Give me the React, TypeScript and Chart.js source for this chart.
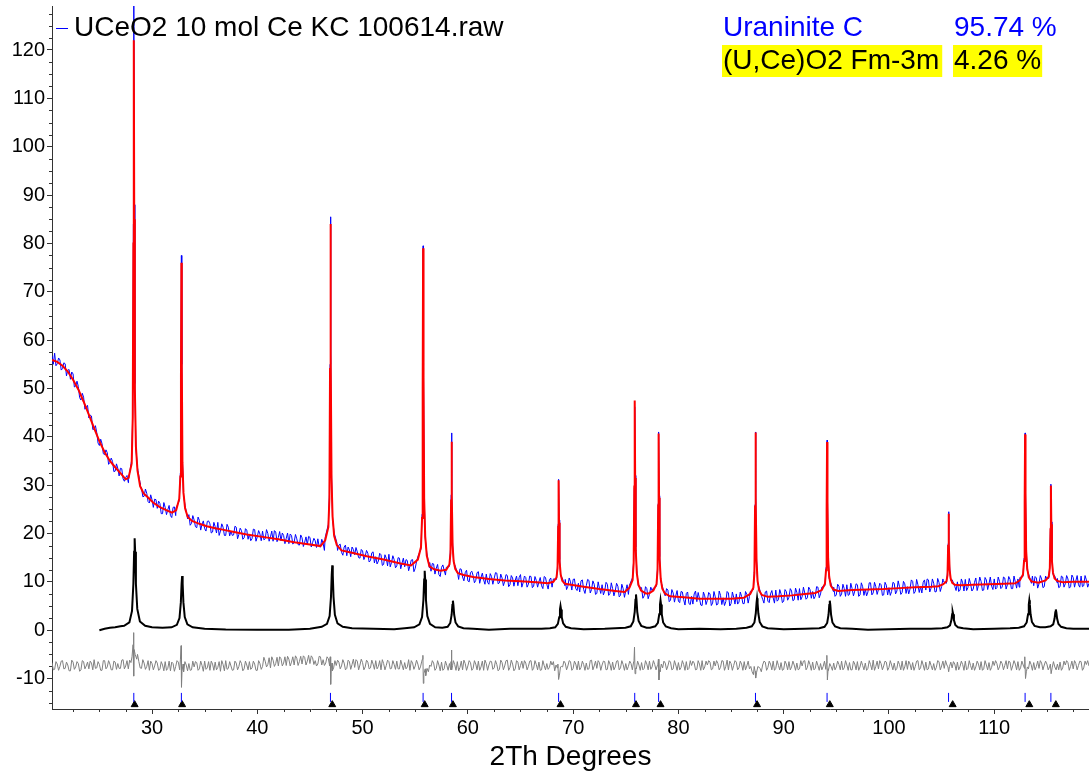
import React, { useEffect, useRef } from 'react';
import { Chart, registerables } from 'chart.js';

Chart.register(...registerables);

// ---------------- data ----------------
const scanStart = 20.5;
const scanStep = 0.125;

// observed counts on the scan grid (20.5 .. 119.0, step 0.125)
const observedCounts = [
  56.8, 55.0, 57.3, 54.7, 55.1, 56.3, 55.9, 53.8, 54.1, 55.3, 55.1, 52.6, 53.8, 53.9, 51.9, 53.4, 53.0, 50.3, 50.5, 51.5, 50.4, 48.1, 47.6, 49.0, 48.2, 45.7, 46.1, 46.5, 43.9, 44.5, 44.3, 41.5, 41.6, 42.3, 40.9, 38.7, 38.2, 39.5, 38.6, 36.5,
  36.3, 37.3, 36.7, 34.3, 34.7, 35.6, 34.9, 32.8, 32.9, 34.4, 33.5, 31.9, 33.5, 33.4, 31.3, 30.8, 31.6, 32.0, 30.5, 31, 33.0, 40, 100, 50, 31.0, 33, 29.0, 29.8, 29.5, 27.6, 27.7, 29.2, 28.3, 26.6, 26.3, 28.0, 27.0, 25.4, 27.1, 27.0,
  25.2, 26.7, 26.2, 24.1, 24.1, 26.4, 25.4, 23.9, 24.9, 25.8, 23.7, 23.3, 25.4, 25.5, 23.7, 25, 25.5, 27, 60, 40, 30, 26, 23.8, 23.5, 23.9, 21.7, 22.1, 23.7, 22.8, 21.4, 21.2, 23.4, 22.7, 20.7, 21.9, 22.6, 21.0, 20.5, 22.5, 22.6,
  22.0, 20.1, 20.3, 22.3, 21.4, 20.1, 22.3, 19.6, 20.5, 22.0, 21.3, 19.6, 19.6, 21.9, 21.3, 19.5, 20.5, 19.6, 19.7, 21.5, 21.3, 18.9, 19.8, 21.1, 20.6, 18.8, 19.1, 21.0, 20.7, 18.8, 19.9, 18.5, 18.9, 20.9, 20.8, 18.4, 19.3, 20.6, 19.9, 18.5,
  20.5, 18.7, 18.9, 20.8, 20.0, 18.4, 19.3, 20.5, 18.4, 20.6, 20.3, 18.3, 19.2, 20.4, 18.5, 20.1, 19.6, 17.9, 19.0, 20.1, 17.9, 19.9, 19.6, 17.8, 18.2, 19.8, 18.9, 17.7, 17.6, 19.7, 19.1, 17.3, 18.2, 19.3, 17.7, 19.4, 19.2, 17.2, 18.1, 19.0,
  18.5, 17.1, 18.9, 17.3, 17.2, 18.8, 18.0, 16.5, 18, 19, 20, 30, 80, 40, 22, 19, 18, 16.5, 17.6, 17.8, 16.1, 15.5, 17.2, 17.6, 15.4, 17.2, 16.6, 15.2, 17.2, 16.7, 15.6, 17.1, 16.2, 15.0, 14.9, 16.7, 16.4, 14.6, 15.3, 16.5,
  15.9, 14.1, 14.4, 16.0, 16.2, 13.9, 15.2, 13.7, 14.3, 15.9, 15.6, 13.4, 13.6, 15.6, 14.9, 13.3, 15.7, 13.1, 14.0, 15.4, 14.6, 12.9, 13.3, 15.0, 14.9, 12.7, 13.9, 14.9, 13.1, 14.6, 14.4, 12.3, 13.3, 14.5, 14.6, 12.1, 12.8, 14.2, 14.6, 15,
  16, 20, 60, 30, 18, 15, 14, 14.0, 12.2, 13.8, 13.7, 11.6, 12.8, 13.6, 11.5, 11.1, 13.0, 13.5, 12.4, 11.4, 12.5, 13, 14, 20, 30, 20, 13, 12, 12, 10.5, 12.7, 12.6, 11.0, 10.2, 11.9, 12.4, 10.2, 10.0, 11.9, 12.2,
  11.3, 9.8, 10.3, 11.9, 12.1, 9.7, 10.9, 11.8, 10.4, 9.5, 11.6, 9.9, 9.5, 11.7, 11.1, 9.5, 10.7, 11.9, 11.8, 9.6, 9.8, 11.6, 10.8, 9.2, 10.1, 11.5, 11.3, 9.0, 9.4, 11.3, 10.8, 9.1, 10.3, 11.2, 9.2, 10.9, 11.5, 8.9, 9.8, 11.2,
  10.9, 8.9, 9.5, 11.2, 11.1, 8.8, 9.1, 11.1, 10.3, 8.9, 10.0, 10.9, 9.2, 8.6, 11.1, 10.9, 9.5, 8.5, 10.4, 10.8, 8.9, 10, 11, 15, 25, 15, 12, 10, 10, 10, 10.5, 8.4, 9.1, 10.8, 10.0, 8.3, 10.5, 10.6, 8.6, 8.2,
  9.7, 7.9, 10.2, 10.4, 8.4, 7.6, 9.2, 10.5, 10.3, 7.7, 8.4, 10.2, 9.5, 7.4, 7.6, 10.0, 8.7, 7.6, 9.4, 7.3, 8.1, 9.9, 9.5, 7.2, 7.6, 9.8, 8.6, 7.1, 8.1, 9.7, 9.1, 6.9, 7.2, 9.5, 8.6, 6.8, 8.2, 9.4, 7.4, 9,
  9, 12, 14, 20, 16, 12, 9, 9, 8.7, 6.6, 7.1, 9.0, 8.6, 6.5, 7.4, 8.9, 8.2, 9, 10, 20, 15, 14, 12, 10, 9, 8, 7.1, 8.6, 8.3, 5.9, 6.2, 8.4, 7.7, 5.8, 7.1, 8.2, 6.0, 5.7, 8.0, 7.9,
  6.3, 5.2, 7.6, 7.9, 5.5, 5.3, 7.0, 5.4, 7.5, 8.1, 5.9, 7.8, 6.6, 5.2, 5.1, 7.9, 7.1, 5.3, 6.2, 7.8, 7.5, 5.1, 5.6, 8.0, 6.9, 5.2, 5.4, 8.1, 7.2, 5.3, 6.7, 5.1, 5.9, 8.0, 7.7, 5.0, 5.5, 7.9, 6.8, 5.4,
  7.5, 5.4, 5.8, 7.9, 7.0, 5.5, 5.5, 8.0, 7.4, 5.6, 7.0, 8, 8, 12, 20, 15, 12, 10, 8, 8, 6.4, 5.6, 7.9, 8.1, 6.0, 5.7, 7.5, 8.2, 6.7, 5.6, 8.3, 6.0, 6.3, 8.4, 7.5, 5.7, 6.0, 8.4, 8.0, 6.2,
  6.8, 8.6, 8.1, 6.1, 6.3, 8.7, 7.8, 6.2, 8.6, 6.3, 6.9, 8.9, 7.7, 6.4, 6.7, 8.9, 8.4, 6.6, 8.0, 6.5, 7.0, 9.0, 8.9, 6.7, 7.5, 9, 10, 15, 20, 18, 14, 11, 9, 9, 8.9, 7.0, 7.3, 9.5, 9.1, 7.0,
  7.5, 9.5, 8.6, 7.0, 9.4, 7.2, 7.4, 9.7, 8.6, 7.1, 8.1, 9.6, 9.4, 7.0, 7.3, 9.8, 9.0, 7.2, 8.5, 7.1, 7.9, 9.8, 9.8, 7.3, 7.7, 9.9, 9.0, 7.4, 8.4, 9.7, 9.4, 7.2, 7.3, 9.9, 9.3, 7.3, 8.8, 7.2, 8.0, 9.9,
  9.7, 7.5, 8.1, 10.2, 9.0, 7.4, 7.8, 10.1, 9.6, 7.6, 9.0, 7.5, 8.5, 10.4, 10.1, 7.6, 8.0, 10.5, 9.4, 7.8, 9.0, 7.7, 9.9, 10.4, 8.3, 10.6, 10.4, 7.9, 8.7, 10.6, 9.7, 7.9, 8.0, 10.7, 9.9, 8.0, 9.0, 10.6, 9.6, 10,
  10, 12, 18, 15, 11, 10, 10, 8.2, 10.0, 8.0, 8.3, 10.6, 9.8, 8.1, 10.5, 8.2, 8.8, 10.7, 9.6, 8.1, 8.5, 9.9, 10.8, 8.2, 9.3, 11.0, 10.1, 8.2, 8.3, 10.9, 10.4, 8.4, 9.6, 11.0, 9.1, 8.4, 10.6, 8.5, 8.8, 11.0,
  10.1, 8.6, 8.9, 11.0, 10.8, 8.5, 9.4, 11.1, 10.5, 8.6, 8.6, 11.2, 10.0, 8.7, 10.6, 8.9, 11, 14, 20, 30, 25, 18, 12, 11, 10, 11.2, 9.2, 11.1, 10.8, 8.7, 9.6, 11.3, 10.6, 8.8, 9.0, 11.2, 10, 15, 12, 14,
  13, 12, 11, 10, 10.7, 8.8, 9.0, 11.2, 11.0, 8.9, 9.6, 11.3, 10.6, 8.7, 9.0, 11.4, 10.9, 8.9, 10.2, 11.3, 9.4, 8.9, 11.2, 9.0, 9.2, 11.3, 10.4, 8.9, 9.7,
];

// observed profile points across each reflection [2theta, counts]
const observedPeaks: number[][][] = [
  [[27.77, 31.2], [28.07, 35.2], [28.17, 45], [28.23, 84], [28.27, 133], [28.31, 88], [28.37, 51], [28.47, 37.5], [28.62, 33.6], [28.87, 30.4]],
  [[32.29, 25.3], [32.59, 26.8], [32.69, 32.5], [32.75, 54], [32.79, 77.5], [32.83, 55], [32.89, 35.3], [32.99, 28.0], [33.14, 25.8], [33.39, 23.0]],
  [[46.45, 19.2], [46.75, 21.9], [46.85, 28.0], [46.91, 55], [46.95, 85.5], [46.99, 58], [47.05, 32.2], [47.15, 23.0], [47.3, 20.1], [47.55, 18.2]],
  [[55.25, 15.2], [55.55, 16.8], [55.65, 24.0], [55.71, 50.5], [55.75, 79.5], [55.79, 53], [55.85, 28.1], [55.95, 19.0], [56.1, 16.0], [56.35, 12.9]],
  [[57.95, 13.0], [58.25, 13.2], [58.35, 16.7], [58.41, 28], [58.45, 40.8], [58.49, 29], [58.55, 18.1], [58.65, 14.0], [58.8, 13.3], [59.05, 11.5]],
  [[68.12, 10.6], [68.42, 10.5], [68.52, 13.4], [68.58, 22], [68.62, 31.2], [68.66, 22.8], [68.72, 14.6], [68.82, 11.2], [68.97, 10.8], [69.22, 9.2]],
  [[75.35, 9.3], [75.65, 10.9], [75.75, 14.5], [75.81, 29.5], [75.85, 46.2], [75.89, 32], [75.95, 17.2], [76.05, 12.3], [76.2, 9.1], [76.45, 8.8]],
  [[77.62, 8.7], [77.92, 9.1], [78.02, 13.1], [78.08, 26.2], [78.12, 41], [78.16, 27.8], [78.22, 15.2], [78.32, 10.2], [78.47, 9.1], [78.72, 7.2]],
  [[86.82, 8.0], [87.12, 8.4], [87.22, 12.5], [87.28, 26], [87.32, 41], [87.36, 27.9], [87.42, 14.9], [87.52, 9.8], [87.67, 8.8], [87.92, 6.9]],
  [[93.62, 8.9], [93.92, 9.2], [94.02, 13.0], [94.08, 25.4], [94.12, 39.3], [94.16, 27.2], [94.22, 15.5], [94.32, 10.7], [94.47, 9.8], [94.72, 8.0]],
  [[105.16, 10.1], [105.46, 9.7], [105.56, 12.0], [105.62, 17.9], [105.66, 24.5], [105.7, 18.5], [105.76, 13.1], [105.86, 10.3], [106.01, 10.4], [106.26, 9.0]],
  [[112.43, 10.9], [112.73, 11.1], [112.83, 14.9], [112.89, 27.0], [112.93, 40.8], [112.97, 28.7], [113.03, 17.1], [113.13, 12.4], [113.28, 11.5], [113.53, 9.7]],
  [[114.88, 10.9], [115.18, 10.7], [115.28, 13.5], [115.34, 21.3], [115.38, 30.2], [115.42, 22.4], [115.48, 14.9], [115.58, 11.5], [115.73, 11.3], [115.98, 9.8]],
];

// calculated pattern: background points and reflection profiles
const calculatedBackground: number[][] = [
  [20.5, 55.9], [21.0, 55.5], [21.5, 54.7], [22.0, 53.5], [22.5, 51.8], [23.0, 49.8], [23.5, 47.3], [24.0, 44.6],
  [24.5, 41.8], [25.0, 39.1], [25.5, 36.8], [26.0, 35.0], [26.5, 33.7], [27.0, 32.5], [27.5, 31.2],
  [29.2, 28.3], [29.6, 27.5], [30.1, 26.4], [30.7, 25.5], [31.4, 24.8], [31.9, 24.3],
  [33.8, 22.6], [34.5, 22.0], [35.2, 21.5], [36.0, 21.1], [36.7, 20.8], [37.8, 20.3], [39.0, 19.8], [40.5, 19.3],
  [42.0, 18.8], [43.5, 18.2], [45.0, 17.7], [46.0, 17.4],
  [48.0, 16.5], [49.0, 16.0], [50.4, 15.3], [52.0, 14.6], [53.6, 13.8], [54.6, 13.4],
  [56.8, 12.6], [57.4, 12.3],
  [59.6, 11.4], [60.5, 11.0], [62.0, 10.6], [63.5, 10.3], [65.0, 10.1], [66.5, 9.9], [67.6, 9.7],
  [69.8, 9.4], [71.0, 9.0], [72.5, 8.5], [74.0, 8.1], [74.9, 7.9],
  [76.9, 7.6], [77.2, 7.6],
  [79.2, 7.0], [80.5, 6.8], [82.0, 6.5], [83.5, 6.5], [85.0, 6.5], [86.2, 6.7],
  [88.5, 6.9], [89.5, 7.0], [90.8, 7.2], [92.0, 7.5], [93.0, 7.7],
  [95.2, 8.1], [96.5, 8.3], [98.0, 8.4], [99.5, 8.5], [101.0, 8.7], [102.5, 8.9], [104.0, 9.0], [104.7, 9.1],
  [106.8, 9.3], [108.0, 9.4], [109.5, 9.5], [111.0, 9.6], [112.0, 9.7],
  [114.2, 9.8],
  [116.5, 9.9], [117.5, 10.0], [118.3, 10.0], [119.0, 10.0],
];

const calculatedPeaks: number[][][] = [
  [[27.77, 31.5], [28.07, 34.5], [28.17, 44], [28.23, 80], [28.27, 122], [28.31, 85], [28.37, 50], [28.47, 38], [28.62, 33], [28.87, 29.8]],
  [[32.29, 24.8], [32.59, 27.2], [32.69, 31.8], [32.75, 52.6], [32.79, 76], [32.83, 54.4], [32.89, 34.6], [32.99, 28.4], [33.14, 25.2], [33.39, 23.4]],
  [[46.45, 18.6], [46.75, 21.3], [46.85, 27.3], [46.91, 54], [46.95, 84], [46.99, 57], [47.05, 31.5], [47.15, 23.5], [47.3, 19.5], [47.55, 17.6]],
  [[55.25, 14.6], [55.55, 17.2], [55.65, 23.2], [55.71, 49.4], [55.75, 79], [55.79, 52.2], [55.85, 27.3], [55.95, 19.4], [56.1, 15.4], [56.35, 13.2]],
  [[57.95, 12.5], [58.25, 13.6], [58.35, 16.0], [58.41, 26.8], [58.45, 39], [58.49, 28.2], [58.55, 17.5], [58.65, 14.3], [58.8, 12.7], [59.05, 11.8]],
  [[68.12, 10.0], [68.42, 10.9], [68.52, 12.8], [68.58, 21.4], [68.62, 31], [68.66, 22.2], [68.72, 14.1], [68.82, 11.5], [68.97, 10.2], [69.22, 9.6]],
  [[75.35, 8.8], [75.65, 10.4], [75.75, 13.9], [75.81, 29.7], [75.85, 47.5], [75.89, 31.5], [75.95, 16.5], [76.05, 11.8], [76.2, 9.4], [76.45, 8.2]],
  [[77.62, 8.2], [77.92, 9.5], [78.02, 12.5], [78.08, 25.8], [78.12, 40.7], [78.16, 27.4], [78.22, 14.6], [78.32, 10.6], [78.47, 8.6], [78.72, 7.6]],
  [[86.82, 7.5], [87.12, 8.8], [87.22, 11.9], [87.28, 25.6], [87.32, 40.9], [87.36, 27.3], [87.42, 14.3], [87.52, 10.2], [87.67, 8.2], [87.92, 7.3]],
  [[93.62, 8.3], [93.92, 9.6], [94.02, 12.4], [94.08, 24.9], [94.12, 38.9], [94.16, 26.7], [94.22, 14.9], [94.32, 11.1], [94.47, 9.2], [94.72, 8.4]],
  [[105.16, 9.5], [105.46, 10.1], [105.56, 11.4], [105.62, 17.4], [105.66, 24.1], [105.7, 18.1], [105.76, 12.5], [105.86, 10.7], [106.01, 9.8], [106.26, 9.4]],
  [[112.43, 10.3], [112.73, 11.5], [112.83, 14.3], [112.89, 26.6], [112.93, 40.5], [112.97, 28.2], [113.03, 16.5], [113.13, 12.8], [113.28, 10.9], [113.53, 10.1]],
  [[114.88, 10.3], [115.18, 11.1], [115.28, 12.9], [115.34, 20.9], [115.38, 29.9], [115.42, 21.9], [115.48, 14.3], [115.58, 11.9], [115.73, 10.7], [115.98, 10.2]],
];

// (U,Ce)O2 phase contribution (black)
const phaseBackground: number[][] = [
  [25.0, 0.0], [25.5, 0.3], [26.0, 0.5], [26.5, 0.6], [27.0, 0.8],
  [30.0, 0.6], [31.0, 0.5],
  [35.0, 0.3], [37.0, 0.15], [40.0, 0.1], [43.0, 0.1], [45.0, 0.3],
  [49.0, 0.4], [51.0, 0.3], [53.0, 0.2], [54.0, 0.4],
  [60.5, 0.3], [62.0, 0.1], [64.0, 0.3], [66.0, 0.3], [67.0, 0.3],
  [71.0, 0.2], [73.0, 0.3], [74.0, 0.4],
  [80.0, 0.2], [82.0, 0.3], [84.0, 0.2], [85.5, 0.3],
  [90.0, 0.2], [92.0, 0.3],
  [96.5, 0.3], [98.0, 0.1], [100.0, 0.2], [102.0, 0.3], [104.0, 0.3],
  [108.0, 0.2], [110.0, 0.3], [111.5, 0.4],
  [117.5, 0.3], [119.0, 0.3],
];

const phasePeaks: number[][][] = [
  [[27.35, 0.9], [27.85, 1.6], [28.1, 4.0], [28.23, 9.6], [28.3, 16.2], [28.35, 19.0], [28.4, 16.2], [28.47, 9.6], [28.6, 4.4], [28.85, 1.8], [29.35, 0.9]],
  [[31.86, 0.6], [32.36, 1.1], [32.61, 2.5], [32.74, 5.8], [32.81, 9.6], [32.86, 11.2], [32.91, 9.6], [32.98, 5.8], [33.11, 2.7], [33.36, 1.2], [33.86, 0.6]],
  [[46.12, 0.7], [46.62, 1.3], [46.87, 2.9], [47.0, 6.9], [47.07, 11.4], [47.12, 13.4], [47.17, 11.4], [47.24, 6.9], [47.37, 3.2], [47.62, 1.4], [48.12, 0.7]],
  [[54.9, 0.6], [55.4, 1.2], [55.65, 2.7], [55.78, 6.3], [55.85, 10.5], [55.9, 12.3], [55.95, 10.5], [56.02, 6.3], [56.15, 2.9], [56.4, 1.3], [56.9, 0.6]],
  [[57.58, 0.5], [58.08, 0.7], [58.33, 1.5], [58.46, 3.2], [58.53, 5.2], [58.58, 6.1], [58.63, 5.2], [58.7, 3.2], [58.83, 1.6], [59.08, 0.8], [59.58, 0.4]],
  [[67.8, 0.4], [68.3, 0.6], [68.55, 1.3], [68.68, 2.7], [68.75, 4.3], [68.8, 5.0], [68.85, 4.3], [68.92, 2.7], [69.05, 1.4], [69.3, 0.7], [69.8, 0.4]],
  [[74.97, 0.5], [75.47, 0.8], [75.72, 1.8], [75.85, 3.8], [75.92, 6.3], [75.97, 7.4], [76.02, 6.3], [76.09, 3.8], [76.22, 1.9], [76.47, 0.9], [76.97, 0.5]],
  [[77.3, 0.5], [77.8, 0.8], [78.05, 1.5], [78.18, 3.3], [78.25, 5.3], [78.3, 6.2], [78.35, 5.3], [78.42, 3.3], [78.55, 1.6], [78.8, 0.8], [79.3, 0.4]],
  [[86.47, 0.5], [86.97, 0.8], [87.22, 1.6], [87.35, 3.5], [87.42, 5.6], [87.47, 6.6], [87.52, 5.6], [87.59, 3.5], [87.72, 1.7], [87.97, 0.8], [88.47, 0.4]],
  [[93.38, 0.4], [93.88, 0.7], [94.13, 1.5], [94.26, 3.2], [94.33, 5.2], [94.38, 6.1], [94.43, 5.2], [94.5, 3.2], [94.63, 1.6], [94.88, 0.8], [95.38, 0.4]],
  [[105.05, 0.4], [105.55, 0.6], [105.8, 1.0], [105.93, 2.1], [106.0, 3.3], [106.05, 3.8], [106.1, 3.3], [106.17, 2.1], [106.3, 1.1], [106.55, 0.6], [107.05, 0.4]],
  [[112.33, 0.5], [112.83, 0.8], [113.08, 1.6], [113.21, 3.3], [113.28, 5.3], [113.33, 6.2], [113.38, 5.3], [113.45, 3.3], [113.58, 1.7], [113.83, 0.9], [114.33, 0.6]],
  [[114.85, 0.6], [115.35, 0.8], [115.6, 1.2], [115.73, 2.4], [115.8, 3.7], [115.85, 4.3], [115.9, 3.7], [115.97, 2.4], [116.1, 1.3], [116.35, 0.7], [116.85, 0.4]],
];

// difference curve (offset) on the scan grid
const differenceCounts = [
  -6.7, -8.2, -8.1, -6.5, -7.0, -8.3, -7.5, -6.4, -6.3, -8.0, -7.9, -6.6, -7.2, -8.4, -8.4, -6.2, -6.6, -8.1, -7.6, -6.5, -6.9, -8.5, -8.2, -6.3, -6.5, -8.0, -7.4, -6.6, -8.0, -6.4, -6.8, -8.2, -6.1, -7.9, -7.8, -6.5, -7.1, -8.3, -8.3, -6.3,
  -6.3, -8.0, -7.6, -6.3, -7.0, -8.2, -8.2, -6.4, -6.6, -8.1, -6.9, -7.9, -7.9, -6.2, -6.1, -8.0, -7.4, -6.3, -8.0, -6.2, -6.7, -5.0, -5.2, -5.0, -5.5, -5.0, -6.5, -7.8, -7.9, -6.1, -6.8, -8.1, -7.5, -6.3, -8.3, -6.4, -6.9, -8.2, -7.4, -6.3,
  -6.8, -8.3, -8.1, -6.5, -7.2, -8.4, -6.5, -8.3, -7.9, -6.4, -8.4, -6.6, -6.9, -8.5, -7.5, -6.3, -6.6, -8.2, -7.0, -8, -8.6, -6.5, -7.2, -8.4, -6.9, -8.3, -8.2, -6.4, -7.6, -6.5, -6.7, -8.3, -8.0, -6.4, -7.3, -8.5, -6.4, -8.1, -7.8, -6.5,
  -8.3, -6.4, -7.0, -8.3, -6.6, -8.2, -7.7, -6.5, -8.5, -6.3, -7.1, -8.4, -6.3, -8.1, -7.9, -6.5, -7.4, -8.3, -8.2, -6.4, -6.8, -8.2, -7.5, -6.3, -6.9, -8.4, -8.0, -6.4, -7.2, -8.2, -6.5, -8.1, -7.8, -6.4, -7.0, -8.3, -8.3, -6.3, -6.9, -8.1,
  -7.5, -5.6, -6.4, -7.6, -7.1, -5.7, -7.8, -5.5, -6.2, -7.5, -6.9, -5.6, -7.4, -5.5, -5.9, -7.4, -6.8, -5.5, -7.3, -5.4, -6.0, -7.4, -6.6, -5.5, -7.2, -5.3, -5.8, -7.3, -6.5, -5.4, -7.0, -5.3, -5.6, -7.2, -6.4, -5.2, -6.9, -5.3, -5.7, -7.1,
  -6.3, -7.4, -7.0, -5.4, -5.5, -7.2, -6.1, -7.3, -6.8, -5.5, -5.9, -7.4, -7.5, -8.4, -7.8, -6.3, -7.3, -6.2, -6.6, -8.0, -7.4, -6.1, -6.8, -8.2, -7.9, -6.2, -6.5, -8.1, -7.1, -6.0, -7.7, -6.1, -6.4, -8.2, -7.2, -6.0, -6.7, -8.2, -7.6, -6.2,
  -6.6, -8.0, -7.8, -6.2, -7.0, -8.1, -6.3, -8.0, -7.5, -6.3, -8.2, -6.1, -6.9, -8.2, -7.3, -6.2, -6.5, -8.0, -7.9, -6.3, -7.1, -8.1, -6.4, -8.0, -8.0, -6.2, -7.2, -8.2, -6.7, -8.0, -7.6, -6.1, -8.3, -6.3, -6.8, -8.1, -7.4, -6.2, -7.0, -8.2,
  -7.6, -6.4, -7.0, -8, -9.4, -7.9, -8.6, -7.2, -7.5, -6.3, -6.8, -8.3, -7.9, -6.3, -7.2, -8.4, -6.6, -8.3, -8.0, -6.4, -7.3, -8.3, -6.9, -8.2, -7.8, -6.3, -7.1, -8.3, -6.5, -8.4, -7.7, -6.4, -8.2, -6.2, -6.9, -8.3, -7.4, -6.3, -6.7, -8.3,
  -7.9, -6.3, -7.0, -8.2, -6.4, -8.3, -7.6, -6.4, -8.3, -6.2, -6.9, -8.3, -7.2, -6.4, -6.5, -8.1, -7.8, -6.3, -7.1, -8.4, -8.1, -6.2, -6.7, -8.2, -7.4, -6.3, -6.2, -8.3, -7.7, -6.2, -7.0, -8.4, -8.0, -6.3, -6.6, -8.2, -7.3, -6.4, -7.9, -6.3,
  -6.8, -8.2, -7.5, -6.4, -6.3, -8.3, -7.9, -6.3, -7.1, -8.2, -6.6, -8.3, -8.2, -6.3, -7.3, -8.2, -6.9, -8.1, -7.7, -6.4, -7.2, -6.5, -8.4, -7.2, -7.8, -9, -8.9, -7.5, -7.6, -6.4, -6.8, -8.2, -7.4, -6.3, -6.5, -8.3, -7.9, -6.4, -7.0, -8.2,
  -6.4, -8.2, -7.7, -6.4, -7.1, -8.3, -6.8, -8.1, -8.0, -6.3, -6.2, -8.2, -7.4, -6.4, -7.9, -6.3, -6.7, -8.3, -7.2, -6.4, -6.5, -8.2, -8.1, -6.3, -7.0, -8.3, -6.6, -8.2, -7.6, -6.4, -6.3, -8.2, -7.8, -6.3, -7.1, -8.3, -6.9, -8.2, -7.5, -6.4,
  -6.9, -8.2, -6.5, -7, -8.0, -6.4, -7.2, -8.3, -6.7, -8.2, -7.9, -6.3, -7.0, -8.2, -6.4, -8.1, -7.6, -6.3, -7.1, -8.2, -7.3, -7, -8.6, -7.0, -7.8, -6.4, -6.8, -8.2, -7.4, -6.3, -6.6, -8.2, -8.0, -6.3, -7.2, -8.3, -6.7, -8.2, -7.7, -6.3,
  -7.1, -8.3, -6.5, -8.2, -7.9, -6.3, -7.3, -6.4, -6.8, -8.2, -8.1, -6.3, -7.0, -8.3, -6.3, -8.2, -7.6, -6.4, -7.2, -6.3, -6.6, -8.2, -8.0, -6.4, -7.4, -6.3, -6.9, -8.2, -7.7, -6.3, -6.4, -8.3, -7.5, -6.2, -8.2, -6.4, -6.9, -8.3, -7.3, -6.3,
  -6.6, -8.2, -7.8, -6.4, -7.0, -8.3, -6.5, -8.2, -7.4, -6.4, -8.0, -7.5, -8.6, -9.2, -8.2, -9, -8.8, -7.6, -7.9, -8.6, -7.2, -6.4, -6.6, -8.3, -7.7, -6.4, -7.0, -8.2, -6.4, -8.3, -7.9, -6.3, -7.3, -8.2, -6.7, -8.3, -8.1, -6.4, -7.0, -8.2,
  -6.5, -8.2, -7.6, -6.4, -7.2, -8.3, -6.8, -8.2, -8.0, -6.3, -7.4, -6.4, -6.3, -8.2, -7.7, -6.3, -7.1, -8.3, -6.6, -8.2, -7.9, -6.4, -7.3, -8.3, -6.9, -8.2, -7.5, -6.4, -8.1, -7, -8.3, -6.9, -7.5, -8.3, -6.8, -8.2, -7.6, -6.4, -7.1, -8.2,
  -6.4, -8.2, -7.8, -6.3, -7.2, -8.3, -6.7, -8.2, -8.2, -6.4, -7.0, -8.2, -6.5, -8.3, -7.6, -6.4, -7.3, -8.2, -6.8, -8.3, -7.9, -6.3, -7.1, -8.2, -6.2, -8.3, -7.5, -6.4, -8.0, -6.3, -6.9, -8.2, -7.4, -6.4, -6.6, -8.3, -7.7, -6.3, -7.2, -8.2,
  -6.8, -8.3, -7.9, -6.4, -7.1, -8.2, -6.4, -8.3, -7.6, -6.3, -8.1, -6.4, -7.0, -8.2, -6.7, -8.3, -7.5, -6.4, -6.3, -8.2, -7.8, -6.3, -7.2, -8.3, -6.6, -8.2, -8.0, -6.4, -7.3, -8.2, -6.9, -8.3, -7.7, -6.3, -6.5, -8.2, -7.4, -6.4, -7.9, -6.3,
  -7.2, -8, -8.1, -6.6, -7.8, -6.5, -7.0, -8.3, -6.6, -8.2, -7.5, -6.4, -7.1, -8.3, -6.4, -8.2, -7.9, -6.3, -7.3, -8.2, -6.8, -8.3, -7.6, -6.4, -7.0, -8.2, -6.5, -8.3, -8.0, -6.3, -7.2, -8.2, -6.7, -8.3, -7.7, -6.4, -7.3, -6.3, -6.9, -8.2,
  -7.6, -6.4, -6.9, -8.2, -7.3, -6.3, -8.0, -6.4, -6.6, -8.3, -7.4, -6.3, -7.0, -8.2, -6.5, -8.3, -7.8, -6.4, -7.2, -7.9, -8.3, -8, -8.0, -6.4, -7.1, -8.3, -6.7, -8.2, -7.5, -6.4, -7.9, -6.3, -6.8, -8.2, -7.2, -6.4, -7.0, -8.2, -7.6, -8,
  -8.4, -6.5, -7.6, -8.2, -7.0, -8.2, -6.6, -8.3, -7.8, -6.4, -7.2, -6.3, -6.7, -8.3, -7.5, -6.4, -8.0, -6.3, -6.9, -8.2, -7.3, -6.4, -6.5, -8.3, -7.8, -6.4, -7.1, -6.3, -7.4,
];

const differencePeaks: number[][][] = [
  [[28.1, -5.5], [28.2, -3.0], [28.25, -0.5], [28.27, -9.5], [28.3, -4.0], [28.4, -5.0], [28.55, -6.0]],
  [[32.7, -6.0], [32.76, -3.2], [32.8, -11.8], [32.85, -8.5], [32.95, -7.0]],
  [[46.88, -6.2], [46.93, -5.5], [46.97, -11.2], [47.02, -8.0], [47.1, -6.8]],
  [[55.68, -6.0], [55.73, -5.2], [55.77, -11.0], [55.82, -9.0], [55.95, -8.0]],
  [[58.4, -6.5], [58.44, -4.1], [58.48, -8.2], [58.55, -7.3]],
  [[68.55, -7.0], [68.62, -10.2], [68.7, -9.3], [68.8, -7.6]],
  [[75.78, -6.3], [75.83, -3.5], [75.88, -9.0], [75.95, -7.8]],
  [[78.05, -7.0], [78.1, -6.0], [78.15, -10.3], [78.22, -8.2]],
  [[87.2, -7.5], [87.28, -8.5], [87.34, -9.9], [87.42, -8.8], [87.55, -7.5]],
  [[94.05, -6.8], [94.1, -5.2], [94.15, -10.3], [94.22, -8.0]],
  [[105.6, -7.6], [105.67, -8.6], [105.75, -7.5]],
  [[112.88, -6.0], [112.92, -5.5], [112.97, -10.0], [113.05, -8.6], [113.15, -7.6]],
  [[115.33, -7.0], [115.4, -9.0], [115.5, -7.8]],
];

// reflection positions (tick marks)
const uraniniteReflections = [28.27, 32.79, 46.95, 55.75, 58.45, 68.62, 75.85, 78.12, 87.32, 94.12, 105.66, 112.93, 115.38];
const ucePhaseReflections = [28.35, 32.86, 47.12, 55.9, 58.58, 68.8, 75.97, 78.3, 87.47, 94.38, 106.05, 113.33, 115.85];

// axes
const xMin = 20.5;
const xMax = 119;
const yMin = -16.3;
const yMax = 129.1;
const xMajorTicks = [30, 40, 50, 60, 70, 80, 90, 100, 110];
const yMajorTicks = [-10, 0, 10, 20, 30, 40, 50, 60, 70, 80, 90, 100, 110, 120];
const xMinorStep = 2.5;
const yMinorStep = 2.5;

// labels
const fileTitle = 'UCeO2 10 mol Ce KC 100614.raw';
const phaseNames = ['Uraninite C', '(U,Ce)O2 Fm-3m'];
const phasePercents = ['95.74 %', '4.26 %'];
const xAxisTitle = '2Th Degrees';

// ---------------- helpers ----------------
const FONT = '"Liberation Sans", Arial, Helvetica, sans-serif';
const AXIS_COLOR = '#333333';

function scanPoints(counts: number[]) {
  return counts.map((y, i) => ({ x: Math.round((scanStart + i * scanStep) * 1000) / 1000, y }));
}

function mergeClusters(base: { x: number; y: number }[], clusters: number[][][]) {
  const kept = base.filter(
    (p) => !clusters.some((c) => p.x >= c[0][0] && p.x <= c[c.length - 1][0])
  );
  const extra = clusters.flat().map(([x, y]) => ({ x, y }));
  return [...kept, ...extra].sort((a, b) => a.x - b.x);
}

function pairsToPoints(pairs: number[][]) {
  return pairs.map(([x, y]) => ({ x, y }));
}

const overlayPlugin = {
  id: 'xrdOverlay',
  afterDraw(chart: any) {
    const { ctx, chartArea, scales } = chart;
    const xs = scales.x;
    const ys = scales.y;
    ctx.save();
    // minor ticks
    ctx.strokeStyle = AXIS_COLOR;
    ctx.lineWidth = 1;
    ctx.beginPath();
    for (let v = Math.ceil(xs.min / xMinorStep) * xMinorStep; v <= xs.max; v += xMinorStep) {
      if (xMajorTicks.includes(v)) continue;
      const px = Math.round(xs.getPixelForValue(v)) + 0.5;
      ctx.moveTo(px, chartArea.bottom);
      ctx.lineTo(px, chartArea.bottom + 3);
    }
    for (let v = Math.ceil(ys.min / yMinorStep) * yMinorStep; v <= ys.max; v += yMinorStep) {
      if (yMajorTicks.includes(v)) continue;
      const py = Math.round(ys.getPixelForValue(v)) + 0.5;
      ctx.moveTo(chartArea.left - 3, py);
      ctx.lineTo(chartArea.left, py);
    }
    ctx.stroke();

    // file title with line marker
    ctx.font = `28px ${FONT}`;
    ctx.textBaseline = 'middle';
    ctx.textAlign = 'left';
    const titleY = 28;
    ctx.strokeStyle = '#0000FF';
    ctx.beginPath();
    ctx.moveTo(chartArea.left + 4, titleY + 0.5);
    ctx.lineTo(chartArea.left + 16, titleY + 0.5);
    ctx.stroke();
    ctx.fillStyle = '#000000';
    ctx.fillText(fileTitle, chartArea.left + 22, titleY);

    // phase list
    const nameX = 723;
    const pctX = 954;
    const rowY = [28, 61];
    phaseNames.forEach((name, i) => {
      if (i === 0) {
        ctx.fillStyle = '#0000FF';
        ctx.fillText(name, nameX, rowY[i]);
        ctx.fillText(phasePercents[i], pctX, rowY[i]);
      } else {
        const w1 = ctx.measureText(name).width;
        const w2 = ctx.measureText(phasePercents[i]).width;
        ctx.fillStyle = '#FFFF00';
        ctx.fillRect(nameX - 1, rowY[i] - 16, w1 + 4, 32);
        ctx.fillRect(pctX - 1, rowY[i] - 16, w2 + 2, 32);
        ctx.fillStyle = '#000000';
        ctx.fillText(name, nameX, rowY[i]);
        ctx.fillText(phasePercents[i], pctX, rowY[i]);
      }
    });
    ctx.restore();
  },
};

export default function App() {
  const canvasRef = useRef<HTMLCanvasElement | null>(null);

  useEffect(() => {
    const canvas = canvasRef.current;
    if (!canvas) return;

    const observed = mergeClusters(scanPoints(observedCounts), observedPeaks);
    const calculated = mergeClusters(pairsToPoints(calculatedBackground), calculatedPeaks);
    const phase = mergeClusters(pairsToPoints(phaseBackground), phasePeaks);
    const difference = mergeClusters(scanPoints(differenceCounts), differencePeaks);

    const chart = new Chart(canvas, {
      type: 'line',
      data: {
        datasets: [
          {
            label: 'Calculated',
            data: calculated,
            borderColor: '#FF0000',
            borderWidth: 2,
            pointRadius: 0,
            tension: 0,
          },
          {
            label: fileTitle,
            data: observed,
            borderColor: '#0000FF',
            borderWidth: 1,
            pointRadius: 0,
            tension: 0,
          },
          {
            label: phaseNames[1],
            data: phase,
            borderColor: '#000000',
            borderWidth: 2,
            pointRadius: 0,
            tension: 0,
          },
          {
            label: 'Difference',
            data: difference,
            borderColor: '#808080',
            borderWidth: 1,
            pointRadius: 0,
            tension: 0,
          },
          {
            label: phaseNames[0] + ' reflections',
            data: uraniniteReflections.map((x) => ({ x, y: -13.9 })),
            showLine: false,
            pointStyle: 'line',
            pointRotation: 90,
            pointRadius: 4.5,
            pointBorderColor: '#0000FF',
            pointBorderWidth: 1,
            clip: false,
          },
          {
            label: phaseNames[1] + ' reflections',
            data: ucePhaseReflections.map((x) => ({ x, y: -15.4 })),
            showLine: false,
            pointStyle: 'triangle',
            pointRadius: 4,
            pointBorderColor: '#000000',
            pointBackgroundColor: '#000000',
            pointBorderWidth: 1,
            clip: false,
          },
        ] as any,
      },
      options: {
        animation: false,
        responsive: false,
        events: [],
        layout: { autoPadding: false, padding: { top: 6, right: 0, left: 0, bottom: 0 } },
        plugins: {
          legend: { display: false },
          tooltip: { enabled: false },
        },
        scales: {
          x: {
            type: 'linear',
            min: xMin,
            max: xMax,
            afterBuildTicks: (scale: any) => {
              scale.ticks = xMajorTicks.map((value) => ({ value }));
            },
            afterFit: (scale: any) => {
              scale.height = 62;
              scale.paddingLeft = 0;
              scale.paddingRight = 0;
            },
            ticks: {
              color: '#000000',
              font: { family: FONT, size: 20 },
              padding: 2,
              maxRotation: 0,
              autoSkip: false,
              callback: (v: any) => String(v),
            },
            grid: {
              drawOnChartArea: false,
              drawTicks: true,
              tickLength: 5,
              tickColor: AXIS_COLOR,
              tickWidth: 1,
            },
            border: { display: true, color: AXIS_COLOR, width: 1 },
            title: {
              display: true,
              text: xAxisTitle,
              color: '#000000',
              font: { family: FONT, size: 28, lineHeight: 1 },
              padding: 0,
            },
          },
          y: {
            type: 'linear',
            min: yMin,
            max: yMax,
            afterBuildTicks: (scale: any) => {
              scale.ticks = yMajorTicks.map((value) => ({ value }));
            },
            afterFit: (scale: any) => {
              scale.width = 52;
              scale.paddingTop = 0;
              scale.paddingBottom = 0;
            },
            ticks: {
              color: '#000000',
              font: { family: FONT, size: 20 },
              padding: 2,
              autoSkip: false,
              callback: (v: any) => String(v),
            },
            grid: {
              drawOnChartArea: false,
              drawTicks: true,
              tickLength: 5,
              tickColor: AXIS_COLOR,
              tickWidth: 1,
            },
            border: { display: true, color: AXIS_COLOR, width: 1 },
          },
        },
      } as any,
      plugins: [overlayPlugin],
    });

    return () => chart.destroy();
  }, []);

  return (
    <div style={{ position: 'fixed', left: 0, top: 0, width: 1089, height: 771, background: '#ffffff', overflow: 'hidden' }}>
      <canvas ref={canvasRef} width={1089} height={771} style={{ display: 'block', width: 1089, height: 771 }} />
    </div>
  );
}
